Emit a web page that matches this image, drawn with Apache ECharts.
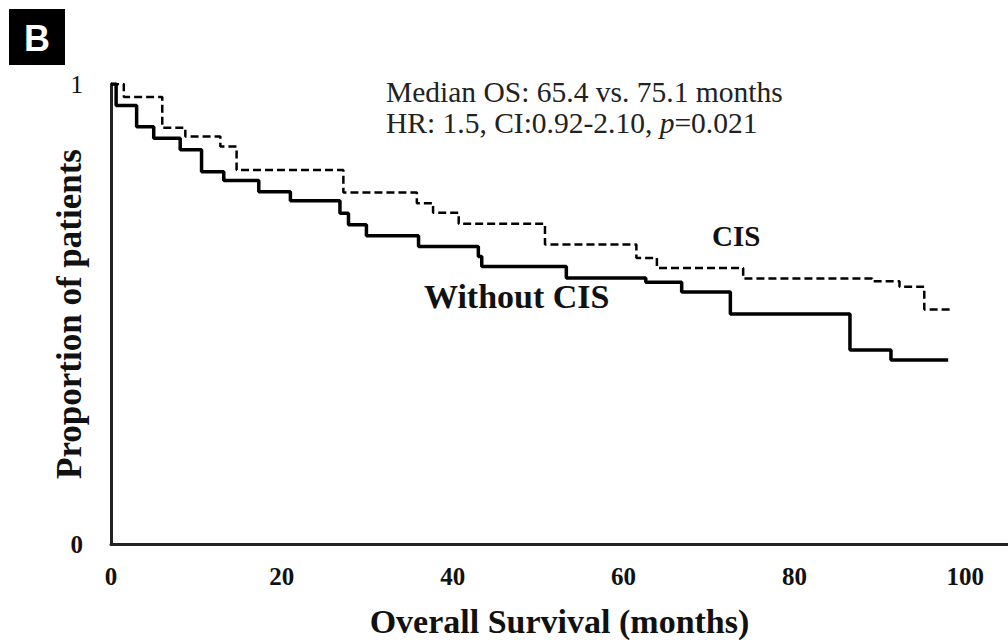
<!DOCTYPE html>
<html>
<head lang="en">
    <meta charset="UTF-8">
    <title>Overall survival</title>
    <script src="https://cdn.jsdelivr.net/npm/echarts@6/dist/echarts.min.js"></script>
    <style>
        html, body{
            margin: 0;
            padding: 0;
            background: #fff;
        }
        #container{
            width: 1008px;
            height: 644px;
        }
    </style>
</head>
<body>
<div id="container"></div>
<script>
    // Kaplan-Meier steps: month of each drop and survival after it
    var withoutCisTime = [0, 0.6, 3.0, 5.0, 8.1, 10.6, 13.2, 17.3, 21.0, 26.8, 27.8, 29.9, 36.0, 43.0, 43.4, 53.3, 62.6, 66.8, 72.5, 86.5, 91.3, 98.0];
    var withoutCisSurv = [1, 0.953, 0.907, 0.882, 0.857, 0.809, 0.790, 0.766, 0.746, 0.719, 0.694, 0.670, 0.647, 0.625, 0.603, 0.578, 0.569, 0.548, 0.500, 0.422, 0.400, 0.400];
    var cisTime = [0, 1.5, 6.0, 8.7, 12.8, 14.7, 27.2, 35.8, 37.7, 40.7, 50.8, 61.5, 63.9, 74.0, 89.1, 92.3, 95.2, 98.5];
    var cisSurv = [1, 0.972, 0.905, 0.886, 0.864, 0.813, 0.764, 0.741, 0.720, 0.696, 0.651, 0.622, 0.600, 0.577, 0.571, 0.559, 0.510, 0.510];
    var xTicks = [0, 20, 40, 60, 80, 100];
    var yTicks = [0, 1];

    function pairs(t, s){
        var out = [];
        for (var i = 0; i < t.length; i++) {
            out.push([t[i], s[i]]);
        }
        return out;
    }

    var serif = 'Liberation Serif';
    var myChart = echarts.init(document.getElementById("container"), null, {renderer: 'svg'});
    myChart.setOption({
        animation: false,
        grid: {left: 111, right: 0, top: 84, bottom: 100},
        xAxis: {
            type: 'value',
            min: 0,
            max: 105,
            interval: 20,
            name: 'Overall Survival (months)',
            nameLocation: 'middle',
            nameGap: 60,
            nameMoveOverlap: false,
            nameTextStyle: {fontFamily: serif, fontWeight: 'bold', fontSize: 34, color: '#111'},
            axisLine: {lineStyle: {color: '#222', width: 3}},
            axisTick: {show: false},
            splitLine: {show: false},
            axisLabel: {
                margin: 20,
                fontFamily: serif, fontWeight: 'bold', fontSize: 25, color: '#111',
                showMaxLabel: false,
                formatter: function (v) {
                    return xTicks.indexOf(v) >= 0 ? String(v) : '';
                }
            }
        },
        yAxis: {
            type: 'value',
            min: 0,
            max: 1,
            interval: 1,
            name: 'Proportion of patients',
            nameLocation: 'middle',
            nameGap: 24,
            nameMoveOverlap: false,
            nameTextStyle: {fontFamily: serif, fontWeight: 'bold', fontSize: 35, color: '#111'},
            axisLine: {show: true, lineStyle: {color: '#222', width: 3}},
            axisTick: {show: false},
            splitLine: {show: false},
            axisLabel: {
                margin: 28,
                fontFamily: serif, fontSize: 25, color: '#111',
                formatter: function (v) {
                    if (yTicks.indexOf(v) < 0) return '';
                    return v === 0 ? '{b|0}' : '{n|1}';
                },
                rich: {
                    b: {fontFamily: serif, fontWeight: 'bold', fontSize: 25, color: '#111'},
                    n: {fontFamily: serif, fontSize: 25, color: '#111'}
                }
            }
        },
        series: [{
            name: 'Without CIS',
            type: 'line',
            step: 'end',
            symbol: 'none',
            lineStyle: {color: '#000', width: 3.5},
            data: pairs(withoutCisTime, withoutCisSurv)
        }, {
            name: 'CIS',
            type: 'line',
            step: 'end',
            symbol: 'none',
            lineStyle: {color: '#000', width: 2.5, type: [8, 4]},
            data: pairs(cisTime, cisSurv)
        }],
        graphic: [
            {type: 'rect', shape: {x: 9, y: 9, width: 56, height: 56}, style: {fill: '#000'}},
            {type: 'text', x: 37, y: 38, style: {text: 'B', fill: '#fff', font: 'bold 36px "Liberation Sans"', align: 'center', verticalAlign: 'middle'}},
            {type: 'text', x: 386, y: 92, style: {text: 'Median OS: 65.4 vs. 75.1 months', fill: '#222', font: '29.5px "Liberation Serif"', verticalAlign: 'middle'}},
            {type: 'text', x: 386, y: 123, style: {
                text: '{a|HR: 1.5, CI:0.92-2.10, }{i|p}{a|=0.021}',
                verticalAlign: 'middle',
                rich: {
                    a: {fontFamily: serif, fontSize: 29.5, fill: '#222'},
                    i: {fontFamily: serif, fontSize: 29.5, fontStyle: 'italic', fill: '#222'}
                }
            }},
            {type: 'text', x: 712, y: 236, style: {text: 'CIS', fill: '#111', font: 'bold 29px "Liberation Serif"', verticalAlign: 'middle'}},
            {type: 'text', x: 424, y: 296, style: {text: 'Without CIS', fill: '#111', font: 'bold 34px "Liberation Serif"', verticalAlign: 'middle'}}
        ]
    });
</script>

</body>
</html>
